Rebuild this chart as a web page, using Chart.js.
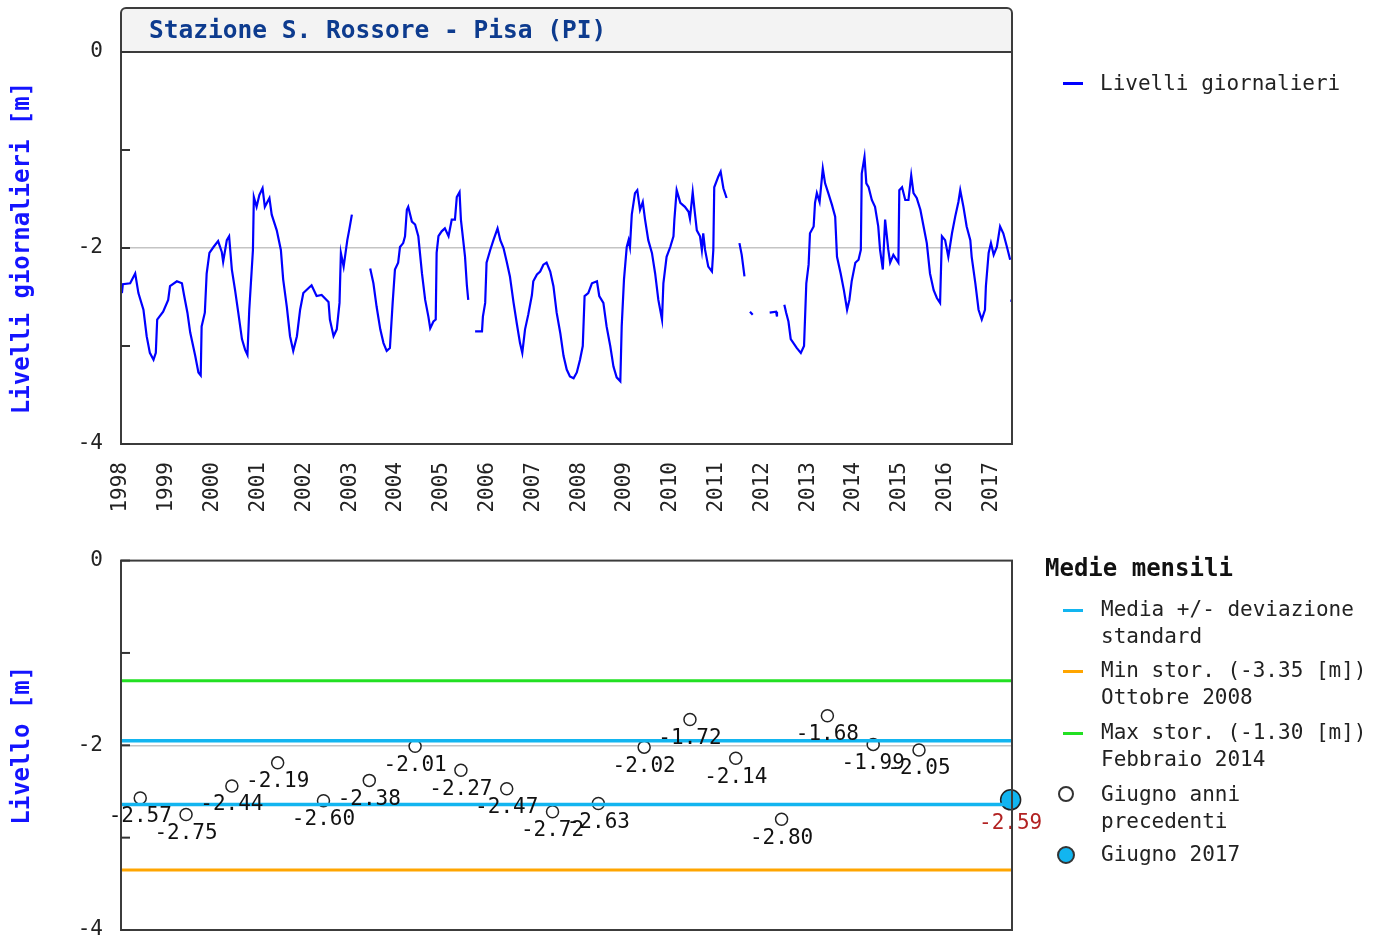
<!DOCTYPE html>
<html lang="it">
<head>
<meta charset="utf-8">
<title>Stazione S. Rossore - Pisa (PI)</title>
<script src="https://cdn.jsdelivr.net/npm/chart.js@4.4.1/dist/chart.umd.min.js"></script>
<style>
  body { margin: 0; width: 1382px; height: 943px; background: #fff; position: relative; overflow: hidden;
         font-family: "DejaVu Sans Mono", monospace; color: #222; }
  canvas { position: absolute; left: 0; }
  #levelsChart { top: 0; }
  #monthlyChart { top: 530px; }
  .legend-text { position: absolute; left: 1101px; font-size: 21px; line-height: 27px; white-space: nowrap; }
  .legend-line { position: absolute; left: 1063px; width: 20px; height: 3px; }
  .legend-dot { position: absolute; border-radius: 50%; box-sizing: border-box; border: 2px solid #333; }
  .legend-title { position: absolute; left: 1045px; top: 554px; font-weight: bold; font-size: 24px; line-height: 28px; color: #111; }
</style>
</head>
<body>
<canvas id="levelsChart" width="1382" height="530"></canvas>
<canvas id="monthlyChart" width="1382" height="431"></canvas>

<div class="legend-line" style="top:82px;background:#0000ff"></div>
<div class="legend-text" style="left:1100px;top:70px">Livelli giornalieri</div>

<div class="legend-title">Medie mensili</div>
<div class="legend-line" style="top:609px;background:#12b5f0"></div>
<div class="legend-text" style="top:596px">Media +/- deviazione<br>standard</div>
<div class="legend-line" style="top:670px;background:#ffa500"></div>
<div class="legend-text" style="top:657px">Min stor. (-3.35 [m])<br>Ottobre 2008</div>
<div class="legend-line" style="top:732px;background:#22e022"></div>
<div class="legend-text" style="top:719px">Max stor. (-1.30 [m])<br>Febbraio 2014</div>
<div class="legend-dot" style="left:1058px;top:786px;width:16px;height:16px;background:#fff"></div>
<div class="legend-text" style="top:781px">Giugno anni<br>precedenti</div>
<div class="legend-dot" style="left:1057px;top:846px;width:18px;height:18px;background:#12b5f0"></div>
<div class="legend-text" style="top:841px">Giugno 2017</div>

<script>
//// data: daily levels (decimal year, metres), null = missing data
const dayYears = [
  1998.02, 1998.04, 1998.20, 1998.31, 1998.38, 1998.49, 1998.56, 1998.63, 1998.71, 1998.76, 1998.79, 1998.92,
  1999.03, 1999.07, 1999.22, 1999.33, 1999.38, 1999.45, 1999.51, 1999.62, 1999.69, 1999.74, 1999.76, 1999.83, 1999.87, 1999.93,
  2000.02, 2000.12, 2000.20, 2000.23, 2000.31, 2000.36, 2000.42, 2000.49, 2000.56, 2000.64, 2000.71, 2000.76, 2000.80, 2000.88, 2000.90, 2000.96,
  2001.02, 2001.09, 2001.14, 2001.24, 2001.29, 2001.40, 2001.49, 2001.54, 2001.62, 2001.69, 2001.76, 2001.84, 2001.91, 2001.98,
  2002.09, 2002.16, 2002.27, 2002.38, 2002.53, 2002.56, 2002.64, 2002.71, 2002.77, 2002.80, 2002.86, 2002.94, 2002.98,
  2003.04, 2003.20, 2003.44, 2003.51, 2003.58, 2003.66, 2003.73, 2003.80, 2003.87, 2003.93, 2003.98,
  2004.05, 2004.09, 2004.16, 2004.20, 2004.24, 2004.27, 2004.35, 2004.42, 2004.49, 2004.57, 2004.64, 2004.71, 2004.75, 2004.82, 2004.87, 2004.89, 2004.93,
  2005.00, 2005.07, 2005.15, 2005.22, 2005.29, 2005.33, 2005.39, 2005.42, 2005.47, 2005.51, 2005.55, 2005.58, 2005.65, 2005.73, 2005.88, 2005.90, 2005.95, 2005.98,
  2006.06, 2006.13, 2006.22, 2006.28, 2006.35, 2006.42, 2006.49, 2006.57, 2006.64, 2006.71, 2006.76, 2006.82, 2006.89, 2006.97,
  2007.00, 2007.08, 2007.15, 2007.22, 2007.29, 2007.37, 2007.44, 2007.51, 2007.59, 2007.66, 2007.73, 2007.80, 2007.88, 2007.95,
  2008.02, 2008.08, 2008.12, 2008.20, 2008.28, 2008.39, 2008.44, 2008.53, 2008.60, 2008.68, 2008.75, 2008.82, 2008.90, 2008.93, 2008.98,
  2009.04, 2009.08, 2009.11, 2009.15, 2009.22, 2009.27, 2009.33, 2009.39, 2009.44, 2009.51, 2009.59, 2009.66, 2009.73, 2009.81, 2009.84, 2009.91, 2009.99,
  2010.06, 2010.08, 2010.13, 2010.21, 2010.31, 2010.39, 2010.42, 2010.48, 2010.52, 2010.57, 2010.64, 2010.68, 2010.71, 2010.75, 2010.82, 2010.90, 2010.93, 2010.95,
  2011.04, 2011.09, 2011.15, 2011.22, 2011.30, 2011.50, 2011.55, 2011.61, 2011.67, 2011.73, 2011.79, 2011.95,
  2012.16, 2012.30, 2012.32, 2012.40, 2012.48, 2012.52, 2012.57, 2012.62, 2012.75, 2012.84, 2012.91, 2012.96,
  2013.01, 2013.04, 2013.12, 2013.15, 2013.19, 2013.25, 2013.32, 2013.37, 2013.44, 2013.52, 2013.59, 2013.63, 2013.71, 2013.78, 2013.85, 2013.90, 2013.95,
  2014.03, 2014.10, 2014.15, 2014.17, 2014.23, 2014.27, 2014.32, 2014.39, 2014.46, 2014.53, 2014.57, 2014.63, 2014.68, 2014.75, 2014.79, 2014.86, 2014.97, 2014.99,
  2015.05, 2015.12, 2015.19, 2015.25, 2015.30, 2015.37, 2015.45, 2015.52, 2015.59, 2015.66, 2015.74, 2015.81, 2015.88, 2015.92, 2015.99,
  2016.06, 2016.14, 2016.21, 2016.28, 2016.32, 2016.39, 2016.46, 2016.54, 2016.57, 2016.65, 2016.72, 2016.79, 2016.86, 2016.88, 2016.94, 2016.99,
  2017.05, 2017.12, 2017.19, 2017.26, 2017.34, 2017.41, 2017.42, 2017.43, 2017.45
];
const dayLevels = [
  -2.46, -2.37, -2.36, -2.26, -2.46, -2.63, -2.90, -3.07, -3.14, -3.07, -2.73, -2.65,
  -2.53, -2.39, -2.34, -2.36, -2.49, -2.66, -2.86, -3.10, -3.27, -3.30, -2.80, -2.66, -2.26, -2.05,
  -1.99, -1.93, -2.04, -2.14, -1.92, -1.88, -2.22, -2.43, -2.66, -2.93, -3.04, -3.09, -2.63, -2.02, -1.48, -1.58,
  -1.46, -1.39, -1.58, -1.49, -1.66, -1.82, -2.02, -2.32, -2.60, -2.90, -3.05, -2.90, -2.63, -2.46,
  -2.41, -2.38, -2.49, -2.48, -2.55, -2.73, -2.90, -2.83, -2.56, -2.05, -2.19, -1.92, -1.82,
  -1.66, null, -2.21, -2.36, -2.60, -2.83, -2.97, -3.05, -3.02, -2.56, -2.22,
  -2.15, -1.99, -1.95, -1.88, -1.61, -1.58, -1.73, -1.76, -1.88, -2.26, -2.53, -2.70, -2.82, -2.75, -2.73, -2.05, -1.88,
  -1.83, -1.80, -1.88, -1.71, -1.71, -1.48, -1.43, -1.71, -1.92, -2.09, -2.38, -2.53, null, -2.85, -2.85, -2.70, -2.56, -2.15,
  -2.02, -1.92, -1.80, -1.92, -2.00, -2.14, -2.29, -2.56, -2.77, -2.97, -3.07, -2.83, -2.68, -2.48,
  -2.34, -2.27, -2.24, -2.17, -2.15, -2.24, -2.39, -2.66, -2.87, -3.10, -3.24, -3.31, -3.33, -3.27,
  -3.14, -3.00, -2.49, -2.46, -2.36, -2.34, -2.49, -2.56, -2.80, -3.00, -3.21, -3.32, -3.36, -2.80, -2.32,
  -1.99, -1.92, -1.99, -1.66, -1.44, -1.41, -1.61, -1.53, -1.71, -1.92, -2.05, -2.26, -2.53, -2.73, -2.36, -2.09, -1.99,
  -1.88, -1.71, -1.41, -1.54, -1.58, -1.63, -1.70, -1.43, -1.61, -1.82, -1.88, -2.02, -1.85, -2.02, -2.19, -2.24, -2.02, -1.38,
  -1.27, -1.22, -1.39, -1.49, null, -1.95, -2.07, -2.29, null, -2.65, -2.68, null,
  -2.66, -2.65, -2.70, null, -2.58, -2.66, -2.75, -2.93, -3.02, -3.07, -3.00, -2.36,
  -2.17, -1.85, -1.78, -1.54, -1.44, -1.53, -1.19, -1.34, -1.44, -1.56, -1.68, -2.09, -2.26, -2.43, -2.63, -2.53, -2.34,
  -2.15, -2.12, -2.02, -1.24, -1.07, -1.34, -1.38, -1.51, -1.58, -1.78, -2.02, -2.22, -1.71, -2.02, -2.15, -2.07, -2.15, -1.41,
  -1.38, -1.51, -1.51, -1.26, -1.44, -1.49, -1.61, -1.78, -1.95, -2.26, -2.43, -2.51, -2.56, -1.88, -1.92,
  -2.09, -1.85, -1.68, -1.53, -1.41, -1.58, -1.78, -1.92, -2.09, -2.36, -2.63, -2.73, -2.63, -2.39, -2.05, -1.95,
  -2.07, -1.99, -1.78, -1.85, -1.99, -2.12, null, -2.55, -2.52
];

//// data: June monthly means
const juneYears = [1998, 1999, 2000, 2001, 2002, 2003, 2004, 2005, 2006, 2007, 2008, 2009, 2010, 2011, 2012, 2013, 2014, 2015];
const juneLevels = [-2.57, -2.75, -2.44, -2.19, -2.60, -2.38, -2.01, -2.27, -2.47, -2.72, -2.63, -2.02, -1.72, -2.14, -2.80, -1.68, -1.99, -2.05];
const currentYear = [2017];
const currentLevel = [-2.59];
const sdBand = [-1.95, -2.64];   // media +/- deviazione standard
const histMin = -3.35;
const histMax = -1.30;

//// axes
const yearTicks = [1998, 1999, 2000, 2001, 2002, 2003, 2004, 2005, 2006, 2007, 2008, 2009, 2010, 2011, 2012, 2013, 2014, 2015, 2016, 2017];
const levelTicks = [0, -1, -2, -3, -4];
const xStart = 1998;
const xEnd = 2017.45;
const juneOffset = 0.42;   // mid June as fraction of year

const stationTitle = "Stazione S. Rossore - Pisa (PI)";
const monoFont = '"DejaVu Sans Mono", monospace';
Chart.defaults.font.family = monoFont;
Chart.defaults.color = '#222';

//// helpers
function levelAxis(titleText) {
  return {
    min: -4,
    max: 0,
    afterBuildTicks: (scale) => { scale.ticks = levelTicks.map(v => ({ value: v })); },
    afterFit: (scale) => { scale.width = 121; },
    ticks: {
      padding: 18,
      font: { size: 21 },
      color: '#222',
      callback: (v) => (v % 2 === 0 ? String(v) : '')
    },
    grid: {
      drawTicks: false,
      lineWidth: 1.5,
      color: (ctx) => (ctx.tick && ctx.tick.value === -2 ? '#c4c4c4' : 'rgba(0,0,0,0)')
    },
    border: { display: false },
    title: {
      display: true,
      text: titleText,
      color: '#1414ff',
      font: { size: 24, weight: 'bold' },
      padding: { top: 8, bottom: 0 }
    }
  };
}

function timeAxis(height, showLabels) {
  return {
    type: 'linear',
    min: xStart,
    max: xEnd,
    afterBuildTicks: (scale) => { scale.ticks = yearTicks.map(v => ({ value: v })); },
    afterFit: (scale) => { scale.height = height; },
    grid: { display: false, drawTicks: false },
    border: { display: false },
    ticks: {
      display: showLabels,
      autoSkip: false,
      minRotation: 90,
      maxRotation: 90,
      padding: 18,
      font: { size: 21 },
      color: '#222',
      callback: (v) => String(v)
    }
  };
}

function drawInnerTicks(chart) {
  const { ctx, chartArea } = chart;
  const yScale = chart.scales.y;
  ctx.save();
  ctx.strokeStyle = '#333';
  ctx.lineWidth = 2;
  yScale.ticks.forEach((tick) => {
    const y = yScale.getPixelForValue(tick.value);
    ctx.beginPath();
    ctx.moveTo(chartArea.left, y);
    ctx.lineTo(chartArea.left + 9, y);
    ctx.stroke();
  });
  ctx.restore();
}

function flatLine(value, color, width) {
  return {
    data: [{ x: xStart, y: value }, { x: xEnd, y: value }],
    borderColor: color,
    borderWidth: width,
    pointRadius: 0,
    clip: false
  };
}

//// plugins
const titleFramePlugin = {
  id: 'titleFrame',
  beforeDraw(chart) {
    const { ctx, chartArea: { left, right, top } } = chart;
    ctx.save();
    ctx.fillStyle = '#f3f3f3';
    ctx.beginPath();
    ctx.moveTo(left, top);
    ctx.lineTo(left, 13);
    ctx.arcTo(left, 8, left + 5, 8, 5);
    ctx.lineTo(right - 5, 8);
    ctx.arcTo(right, 8, right, 13, 5);
    ctx.lineTo(right, top);
    ctx.closePath();
    ctx.fill();
    ctx.restore();
  },
  afterDraw(chart) {
    const { ctx, chartArea: { left, right, top, bottom } } = chart;
    ctx.save();
    ctx.strokeStyle = '#3c3c3c';
    ctx.lineWidth = 2;
    ctx.beginPath();
    ctx.moveTo(left, bottom);
    ctx.lineTo(left, 13);
    ctx.arcTo(left, 8, left + 5, 8, 5);
    ctx.lineTo(right - 5, 8);
    ctx.arcTo(right, 8, right, 13, 5);
    ctx.lineTo(right, bottom);
    ctx.closePath();
    ctx.moveTo(left, top);
    ctx.lineTo(right, top);
    ctx.stroke();
    ctx.fillStyle = '#0d3b8e';
    ctx.font = 'bold 24.5px ' + monoFont;
    ctx.textBaseline = 'middle';
    ctx.textAlign = 'left';
    ctx.fillText(stationTitle, left + 28, 32);
    ctx.restore();
    drawInnerTicks(chart);
  }
};

const boxFramePlugin = {
  id: 'boxFrame',
  afterDatasetsDraw(chart) {
    const { ctx } = chart;
    ctx.save();
    ctx.font = '21px ' + monoFont;
    ctx.textAlign = 'center';
    ctx.textBaseline = 'middle';
    ctx.fillStyle = '#111';
    chart.getDatasetMeta(4).data.forEach((pt, i) => {
      ctx.fillText(juneLevels[i].toFixed(2), pt.x, pt.y + 19);
    });
    ctx.fillStyle = '#b22222';
    chart.getDatasetMeta(5).data.forEach((pt, i) => {
      ctx.fillText(currentLevel[i].toFixed(2), pt.x, pt.y + 24);
    });
    ctx.restore();
  },
  afterDraw(chart) {
    const { ctx, chartArea: { left, right, top, bottom } } = chart;
    ctx.save();
    ctx.strokeStyle = '#3c3c3c';
    ctx.lineWidth = 2;
    ctx.strokeRect(left, top, right - left, bottom - top);
    ctx.restore();
    drawInnerTicks(chart);
  }
};

//// charts
function drawLevelsChart() {
  const dayPoints = dayYears.map((t, i) => ({ x: t, y: dayLevels[i] }));
  new Chart(document.getElementById('levelsChart'), {
    type: 'line',
    data: {
      datasets: [{
        data: dayPoints,
        borderColor: '#0000ff',
        borderWidth: 2.2,
        pointRadius: 0,
        tension: 0,
        spanGaps: false
      }]
    },
    options: {
      responsive: false,
      animation: false,
      layout: { padding: { top: 52, right: 370, left: 0, bottom: 0 } },
      plugins: { legend: { display: false }, tooltip: { enabled: false } },
      scales: {
        x: timeAxis(86, true),
        y: levelAxis('Livelli giornalieri [m]')
      }
    },
    plugins: [titleFramePlugin]
  });
}

function drawMonthlyChart() {
  const junePoints = juneYears.map((yr, i) => ({ x: yr + juneOffset, y: juneLevels[i] }));
  const currentPoints = currentYear.map((yr, i) => ({ x: yr + juneOffset, y: currentLevel[i] }));
  new Chart(document.getElementById('monthlyChart'), {
    type: 'line',
    data: {
      datasets: [
        flatLine(histMax, '#22e022', 3),
        flatLine(histMin, '#ffa500', 3),
        flatLine(sdBand[0], '#12b5f0', 3.5),
        flatLine(sdBand[1], '#12b5f0', 3.5),
        {
          data: junePoints,
          showLine: false,
          pointRadius: 6,
          pointBackgroundColor: '#fff',
          pointBorderColor: '#222',
          pointBorderWidth: 1.5,
          clip: false
        },
        {
          data: currentPoints,
          showLine: false,
          pointRadius: 10,
          pointBackgroundColor: '#12b5f0',
          pointBorderColor: '#222',
          pointBorderWidth: 1.5,
          clip: false
        }
      ]
    },
    options: {
      responsive: false,
      animation: false,
      layout: { padding: { top: 30, right: 370, left: 0, bottom: 0 } },
      plugins: { legend: { display: false }, tooltip: { enabled: false } },
      scales: {
        // the canvas runs past the page bottom; this axis keeps room for the tick-label overhang
        x: timeAxis(31, false),
        y: levelAxis('Livello [m]')
      }
    },
    plugins: [boxFramePlugin]
  });
}

drawLevelsChart();
drawMonthlyChart();
</script>
</body>
</html>
